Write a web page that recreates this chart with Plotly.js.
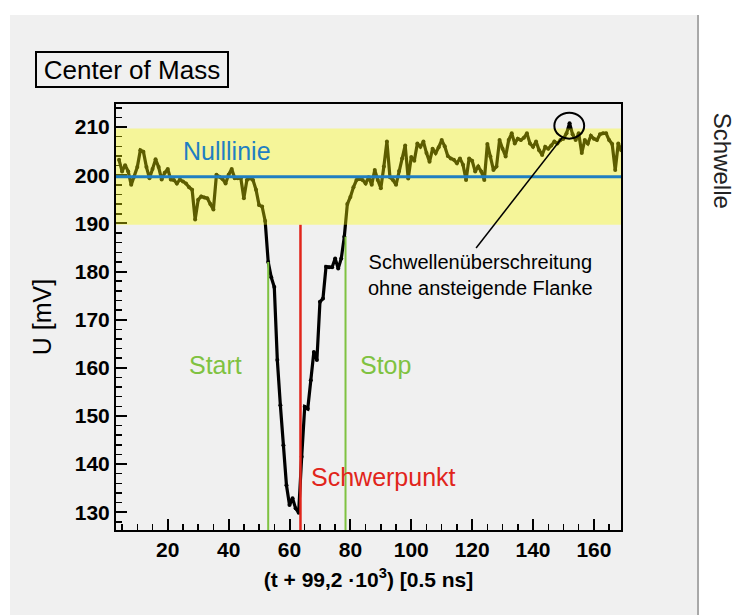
<!DOCTYPE html>
<html>
<head>
<meta charset="utf-8">
<script src="https://cdn.plot.ly/plotly-3.0.1.min.js"></script>
<style>
  html, body { margin: 0; padding: 0; background: #ffffff; }
  #chart { width: 737px; height: 615px; }
</style>
</head>
<body>
<div id="chart"></div>
<script>
// ---- data ----
const tBins = [4,5,6,7,8,9,10,11,12,13,14,15,16,17,18,19,20,21,22,23,24,25,26,27,28,29,30,31,32,33,34,35,36,37,38,39,40,41,42,43,44,45,46,47,48,49,50,51,52,53,54,55,56,57,58,59,60,61,62,63,64,65,66,67,68,69,70,71,72,73,74,75,76,77,78,79,80,81,82,83,84,85,86,87,88,89,90,91,92,93,94,95,96,97,98,99,100,101,102,103,104,105,106,107,108,109,110,111,112,113,114,115,116,117,118,119,120,121,122,123,124,125,126,127,128,129,130,131,132,133,134,135,136,137,138,139,140,141,142,143,144,145,146,147,148,149,150,151,152,153,154,155,156,157,158,159,160,161,162,163,164,165,166,167,168,169];
const uValues = [203.2,200.8,202.1,200.8,198.0,199.7,201.7,205.2,204.9,201.7,199.4,201.3,203.3,201.7,199.1,200.5,201.3,199.1,199.0,198.3,199.1,198.7,198.3,197.5,197.0,190.8,194.9,195.6,195.4,195.2,194.0,192.9,200.1,199.7,199.2,198.3,200.1,201.3,199.4,199.4,199.4,195.2,199.0,199.4,199.0,197.0,193.8,193.5,190.5,182.0,178.8,176.8,161.6,152.2,143.9,135.6,131.5,132.9,130.8,129.9,141.5,151.9,151.5,157.4,163.3,161.6,173.7,174.4,181.0,180.9,180.9,182.7,180.6,182.7,187.2,194.0,195.5,197.5,199.0,199.2,199.0,198.3,199.6,198.0,201.1,199.0,197.3,201.8,207.0,199.6,199.0,198.0,200.9,203.5,206.2,199.3,203.8,203.0,206.6,205.9,207.0,204.6,202.8,205.5,204.6,205.8,207.3,206.0,204.0,203.5,203.2,202.5,203.5,202.2,199.0,203.5,203.0,200.8,201.8,200.8,199.0,206.5,203.9,201.1,201.8,207.3,205.5,203.9,207.3,208.7,206.6,207.6,207.3,207.8,208.7,206.6,205.9,207.0,205.2,204.2,205.9,205.5,206.2,207.0,206.6,207.3,207.6,208.7,210.8,208.5,207.3,208.7,204.6,207.3,206.6,208.2,207.6,207.3,208.5,208.7,208.7,207.3,206.5,201.1,206.6,205.2];
const xTickVals = [20,40,60,80,100,120,140,160];
const xTickText = ["20","40","60","80","100","120","140","160"];
const yTickVals = [130,140,150,160,170,180,190,200,210];
const yTickText = ["130","140","150","160","170","180","190","200","210"];
const baseline = 199.7;          // Nulllinie
const thresholdLow = 189.7;      // Schwelle band
const thresholdHigh = 209.7;
const startX = 53.0, startU = 182.0;
const stopX = 78.4, stopU = 187.2;
const comX = 63.6;               // Schwerpunkt
const peakX = 151.9, peakU = 210.8;
const xRange = [3, 168.9];
const yRange = [126.3, 214.8];

const FONT = "Arial, 'Liberation Sans', Helvetica, sans-serif";
const GREEN = "#7fc241", RED = "#e1251b", BLUE = "#1f7fc2";

const traces = [{
  x: tBins, y: uValues, type: "scatter", mode: "lines+markers",
  line: {color: "#000000", width: 3.2},
  marker: {color: "#000000", size: 4},
  hoverinfo: "skip", showlegend: false
}];

const shapes = [
  // grey canvas panel
  {type: "rect", xref: "paper", yref: "paper", x0: -0.2099, x1: 1.1505, y0: -0.2, y1: 1.2089,
   fillcolor: "#f0f0f0", line: {width: 0}, layer: "below"},
  {type: "line", xref: "paper", yref: "paper", x0: 1.1525, x1: 1.1525, y0: -0.2, y1: 1.2089,
   line: {color: "#a8a8a8", width: 2}, layer: "below"},
  // start / stop / center lines
  {type: "line", xref: "x", yref: "y", x0: startX, x1: startX, y0: yRange[0], y1: startU,
   line: {color: GREEN, width: 2}},
  {type: "line", xref: "x", yref: "y", x0: stopX, x1: stopX, y0: yRange[0], y1: stopU,
   line: {color: GREEN, width: 2}},
  {type: "line", xref: "x", yref: "y", x0: comX, x1: comX, y0: yRange[0], y1: thresholdLow,
   line: {color: RED, width: 2.5}},
  // threshold band
  {type: "rect", xref: "paper", yref: "y", x0: 0, x1: 1, y0: thresholdLow, y1: thresholdHigh,
   fillcolor: "rgba(255,255,0,0.36)", line: {width: 0}, layer: "above"},
  // baseline
  {type: "line", xref: "paper", yref: "y", x0: 0, x1: 1, y0: baseline, y1: baseline,
   line: {color: BLUE, width: 3}, layer: "above"},
  // circle around threshold crossing
  {type: "circle", xref: "x", yref: "y", x0: peakX - 4.9, x1: peakX + 4.9, y0: peakU - 3.2, y1: peakU + 2.2,
   line: {color: "#000000", width: 2}, layer: "above"},
  // pointer line
  {type: "line", xref: "x", yref: "y", x0: 121.3, y0: 184.9, x1: 149.8, y1: 208.0,
   line: {color: "#000000", width: 1.5}, layer: "above"}
];

const annotations = [
  {xref: "paper", yref: "paper", x: 0.0317, y: 1.081, xanchor: "center", yanchor: "middle",
   text: "Center of Mass", showarrow: false, font: {family: FONT, size: 26, color: "#000"},
   bordercolor: "#000", borderwidth: 2, borderpad: 0, width: 190, height: 33, bgcolor: "rgba(0,0,0,0)"},
  {xref: "x", yref: "y", x: 39.3, y: 205.1, xanchor: "center", yanchor: "middle", text: "Nulllinie", showarrow: false,
   font: {family: FONT, size: 25, color: BLUE}},
  {xref: "x", yref: "y", x: 45.2, y: 160.6, xanchor: "right", yanchor: "middle", text: "Start", showarrow: false,
   font: {family: FONT, size: 25, color: GREEN}},
  {xref: "x", yref: "y", x: 82.4, y: 160.6, xanchor: "left", yanchor: "middle", text: "Stop", showarrow: false,
   font: {family: FONT, size: 25, color: GREEN}},
  {xref: "x", yref: "y", x: 66.5, y: 137.3, xanchor: "left", yanchor: "middle", text: "Schwerpunkt", showarrow: false,
   font: {family: FONT, size: 25, color: RED}},
  {xref: "x", yref: "y", x: 122.8, y: 179.3, xanchor: "center", yanchor: "middle",
   text: "Schwellenüberschreitung<br>ohne ansteigende Flanke",
   showarrow: false, font: {family: FONT, size: 20, color: "#000"}},
  {xref: "paper", yref: "paper", x: 1.2025, y: 0.866, xanchor: "center", yanchor: "middle",
   text: "Schwelle", textangle: 90, showarrow: false,
   font: {family: FONT, size: 24, color: "#222"}}
];

const layout = {
  width: 737, height: 615,
  margin: {l: 116, r: 116, t: 104, b: 85, pad: 0},
  paper_bgcolor: "#ffffff", plot_bgcolor: "rgba(0,0,0,0)",
  showlegend: false,
  xaxis: {
    range: xRange, tickvals: xTickVals, ticktext: xTickText,
    ticks: "inside", ticklen: 11, tickwidth: 2, tickcolor: "#000",
    minor: {dtick: 5, tick0: 0, ticks: "inside", ticklen: 6, tickwidth: 1.5, tickcolor: "#000", showgrid: false},
    showline: true, linecolor: "#000", linewidth: 2, mirror: true,
    showgrid: false, zeroline: false,
    tickfont: {family: FONT, size: 21, color: "#000", weight: "bold"},
    title: {text: "<b>(t + 99,2 ·10<sup>3</sup>) [0.5 ns]</b>", font: {family: FONT, size: 21, color: "#000"}, standoff: 12}
  },
  yaxis: {
    range: yRange, tickvals: yTickVals, ticktext: yTickText,
    ticks: "inside", ticklen: 11, tickwidth: 2, tickcolor: "#000",
    minor: {dtick: 2, tick0: 0, ticks: "inside", ticklen: 6, tickwidth: 1.5, tickcolor: "#000", showgrid: false},
    showline: true, linecolor: "#000", linewidth: 2, mirror: true,
    showgrid: false, zeroline: false,
    tickfont: {family: FONT, size: 21, color: "#000", weight: "bold"},
    title: {text: "U [mV]", font: {family: FONT, size: 25, color: "#000"}, standoff: 16}
  },
  shapes: shapes,
  annotations: annotations
};

Plotly.newPlot("chart", traces, layout, {displayModeBar: false, staticPlot: true});
</script>
</body>
</html>
